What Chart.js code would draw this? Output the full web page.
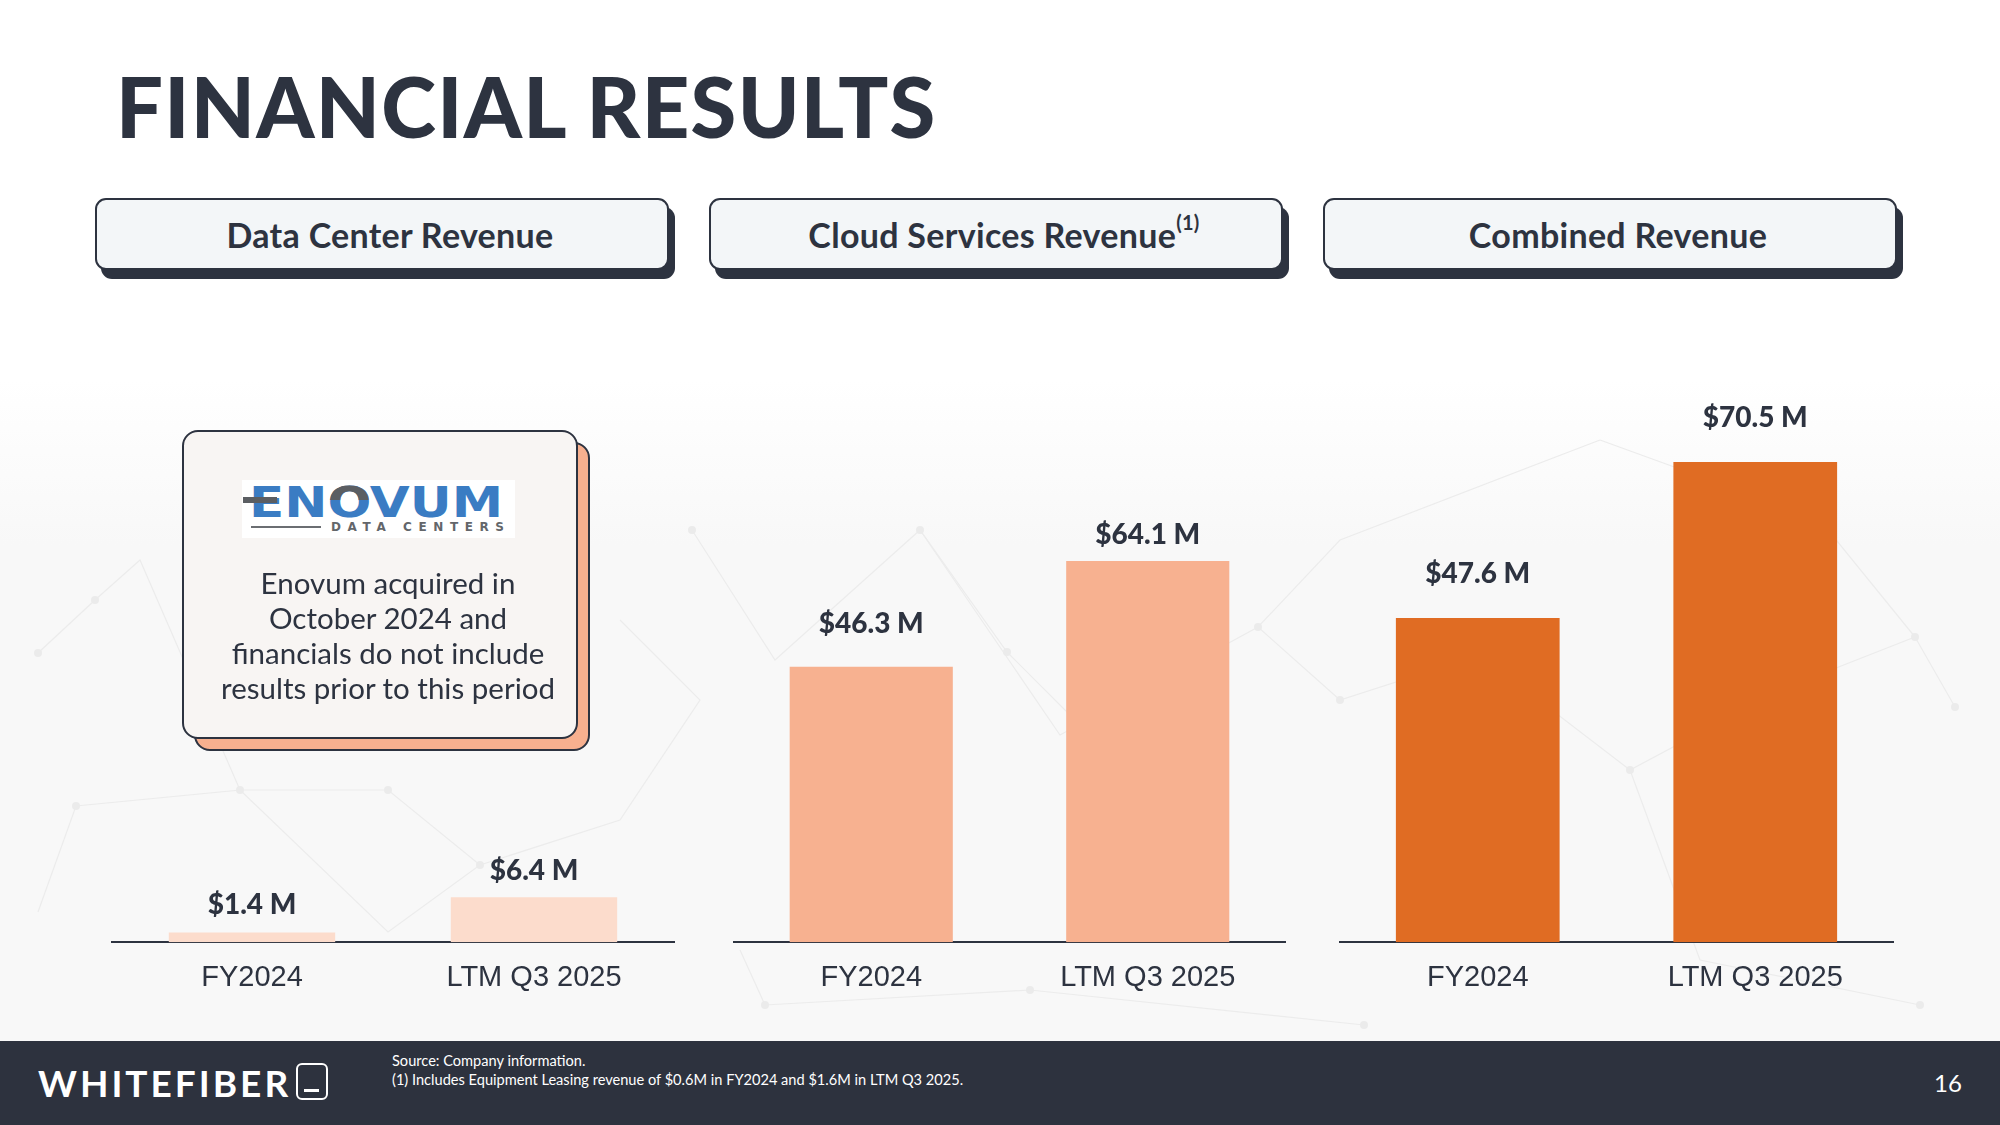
<!DOCTYPE html>
<html>
<head>
<meta charset="utf-8">
<script src="https://cdn.jsdelivr.net/npm/chart.js@4.4.1/dist/chart.umd.min.js"></script>
<style>
  html, body { margin:0; padding:0; background:#ffffff; }
  #page { position:relative; width:2000px; height:1125px; overflow:hidden; background:#ffffff; font-family:"Lato", "Noto Sans", sans-serif; color:#2d3340; }
  #bgband { position:absolute; left:0; top:380px; width:2000px; height:661px; background:linear-gradient(#ffffff, #f8f8f8 25%, #f8f8f8); }
  #net { position:absolute; left:0; top:0; }
  #title { position:absolute; left:116px; top:65px; font-size:83px; font-weight:900; letter-spacing:1.3px; line-height:1; white-space:nowrap; }
  .hdr { position:absolute; top:198px; width:574px; height:72px; }
  .hdr .sh { position:absolute; left:6px; top:9px; width:574px; height:72px; background:#2d3340; border-radius:11px; }
  .hdr .bx { position:absolute; left:0; top:0; width:570px; height:68px; box-sizing:content-box; background:#f3f6f8; border:2px solid #2d3340; border-radius:11px; display:flex; align-items:center; justify-content:center; font-size:34px; font-weight:700; letter-spacing:0.3px; color:#2d3340; }
  .hdr .bx span { position:relative; left:8px; }
  .hdr sup { font-size:20px; position:relative; top:-5px; margin-left:0px; }
  .cv { position:absolute; top:270px; }
  #note { position:absolute; left:182px; top:430px; width:396px; height:309px; }
  #note .sh { position:absolute; left:12px; top:12px; width:396px; height:309px; background:#f7b08f; border:2px solid #2d3340; border-radius:16px; box-sizing:border-box; }
  #note .bx { position:absolute; left:0; top:0; width:396px; height:309px; background:#f8f5f3; border:2px solid #2d3340; border-radius:16px; box-sizing:border-box; }
  #logo { position:absolute; left:58px; top:48px; width:273px; height:58px; background:#ffffff; }
  #note .txt { position:absolute; left:6px; top:133px; width:396px; text-align:center; font-size:29.5px; line-height:35px; color:#2d3340; }
  #footer { position:absolute; left:0; top:1041px; width:2000px; height:84px; background:#2d323e; color:#ffffff; }
  #brand { position:absolute; left:38px; top:22px; font-family:"Lato", sans-serif; font-size:37px; font-weight:700; letter-spacing:3px; line-height:40px; }
  #brandbox { position:absolute; left:296px; top:22px; width:28px; height:33px; border:2.5px solid #ffffff; border-radius:6px; }
  #brandbox i { position:absolute; left:6px; bottom:6px; width:15px; height:3px; background:#fff; }
  #src { position:absolute; left:392px; top:10px; font-size:14.6px; line-height:19px; color:#ffffff; }
  #pnum { position:absolute; left:1934px; top:28px; font-size:24px; line-height:28px; color:#ffffff; }
</style>
</head>
<body>
<div id="page">
  <div id="bgband"></div>
  <svg id="net" width="2000" height="1125" viewBox="0 0 2000 1125">
    <g stroke="#ececec" stroke-width="1.2" fill="none">
      <polyline points="38,653 95,600 140,560 240,790 76,806 38,912"/>
      <polyline points="240,790 388,790 480,865 388,932 240,790"/>
      <polyline points="480,865 620,820 700,700 620,620"/>
      <polyline points="692,530 775,660 920,530 1007,652 1090,735"/>
      <polyline points="920,530 1060,735 1258,627 1340,540 1600,440"/>
      <polyline points="1258,627 1340,700 1480,655 1630,770 1780,690 1915,637 1955,707"/>
      <polyline points="1600,440 1820,520 1915,637"/>
      <polyline points="1630,770 1700,960 1920,1005"/>
      <polyline points="740,950 765,1005 1030,990 1364,1025"/>
    </g>
    <g fill="#ebebeb">
      <circle cx="38" cy="653" r="4"/><circle cx="95" cy="600" r="4"/><circle cx="240" cy="790" r="4"/>
      <circle cx="76" cy="806" r="4"/><circle cx="388" cy="790" r="4"/><circle cx="480" cy="865" r="4"/>
      <circle cx="692" cy="530" r="4"/><circle cx="920" cy="530" r="4"/><circle cx="1007" cy="652" r="4"/>
      <circle cx="1258" cy="627" r="4"/><circle cx="1340" cy="700" r="4"/><circle cx="1630" cy="770" r="4"/>
      <circle cx="1915" cy="637" r="4"/><circle cx="1955" cy="707" r="4"/><circle cx="1920" cy="1005" r="4"/>
      <circle cx="765" cy="1005" r="4"/><circle cx="1030" cy="990" r="4"/><circle cx="1364" cy="1025" r="4"/>
    </g>
  </svg>

  <div id="title">FINANCIAL RESULTS</div>

  <div class="hdr" style="left:95px"><div class="sh"></div><div class="bx"><span>Data Center Revenue</span></div></div>
  <div class="hdr" style="left:709px"><div class="sh"></div><div class="bx"><span>Cloud Services Revenue<sup>(1)</sup></span></div></div>
  <div class="hdr" style="left:1323px"><div class="sh"></div><div class="bx"><span>Combined Revenue</span></div></div>

  <canvas id="c1" class="cv" style="left:111px" width="564" height="743"></canvas>
  <canvas id="c2" class="cv" style="left:733px" width="553" height="743"></canvas>
  <canvas id="c3" class="cv" style="left:1339px" width="555" height="743"></canvas>

  <div id="note">
    <div class="sh"></div>
    <div class="bx">
      <div id="logo">
        <svg width="273" height="58" viewBox="0 0 273 58">
          <defs><clipPath id="otop"><rect x="0" y="0" width="273" height="20"/></clipPath></defs>
          <text x="7" y="37" font-family="DejaVu Sans, sans-serif" font-weight="700" font-size="42" fill="#3a7cc3" textLength="254" lengthAdjust="spacingAndGlyphs">ENOVUM</text>
          <text x="7" y="37" font-family="DejaVu Sans, sans-serif" font-weight="700" font-size="42" fill="#5b5e62" textLength="254" lengthAdjust="spacingAndGlyphs" clip-path="url(#otop)"><tspan fill="none">EN</tspan>O<tspan fill="none">VUM</tspan></text>
          <rect x="1" y="17" width="34" height="6" fill="#5b5e62"/>
          <rect x="9" y="46" width="70" height="2" fill="#6b6e72"/>
          <text x="89" y="51" font-family="DejaVu Sans, sans-serif" font-weight="700" font-size="12" fill="#63666a" textLength="173" lengthAdjust="spacing">DATA CENTERS</text>
        </svg>
      </div>
      <div class="txt">Enovum acquired in<br>October 2024 and<br>financials do not include<br>results prior to this period</div>
    </div>
  </div>

  <div id="footer">
    <div id="brand">WHITEFIBER</div>
    <div id="brandbox"><i></i></div>
    <div id="src">Source: Company information.<br>(1) Includes Equipment Leasing revenue of $0.6M in FY2024 and $1.6M in LTM Q3 2025.</div>
    <div id="pnum">16</div>
  </div>
</div>

<script>
// ---- data ----
const categories = ['FY2024', 'LTM Q3 2025'];
const dataCenterRevenue = [1.4, 6.4];
const cloudServicesRevenue = [46.3, 64.1];
const combinedRevenue = [47.6, 70.5];

// ---- per-chart scale tops and label offsets (layout) ----
const axisMax = [95.9, 113, 98.7];
const labelOffsets = [[27, 26], [43, 26], [44, 44]];
const barColors = ['#fcdccc', '#f7b190', '#e06c23'];

const valueLabels = {
  id: 'valueLabels',
  afterDatasetsDraw(chart, args, opts) {
    const ctx = chart.ctx;
    const meta = chart.getDatasetMeta(0);
    const vals = chart.data.datasets[0].data;
    ctx.save();
    ctx.font = '900 28px "Lato", sans-serif';
    ctx.fillStyle = '#2d3340';
    ctx.textAlign = 'center';
    ctx.textBaseline = 'middle';
    meta.data.forEach((bar, i) => {
      ctx.fillText('$' + vals[i].toFixed(1) + ' M', bar.x, bar.y - opts.offsets[i]);
    });
    ctx.restore();
  }
};

function makeChart(id, values, idx) {
  return new Chart(document.getElementById(id), {
    type: 'bar',
    data: {
      labels: categories,
      datasets: [{
        data: values,
        backgroundColor: barColors[idx],
        borderWidth: 0,
        categoryPercentage: 1.0,
        barPercentage: 0.59
      }]
    },
    options: {
      responsive: false,
      animation: false,
      layout: { padding: 0 },
      plugins: {
        legend: { display: false },
        tooltip: { enabled: false },
        valueLabels: { offsets: labelOffsets[idx] }
      },
      scales: {
        x: {
          grid: { color: 'transparent', drawTicks: false, drawOnChartArea: false },
          border: { display: true, color: '#2d3340', width: 2 },
          ticks: { color: '#2d3340', padding: 18, font: { family: '"Liberation Sans", Arial, sans-serif', size: 29 } }
        },
        y: { display: false, min: 0, max: axisMax[idx] }
      }
    },
    plugins: [valueLabels]
  });
}

makeChart('c1', dataCenterRevenue, 0);
makeChart('c2', cloudServicesRevenue, 1);
makeChart('c3', combinedRevenue, 2);
</script>
</body>
</html>
